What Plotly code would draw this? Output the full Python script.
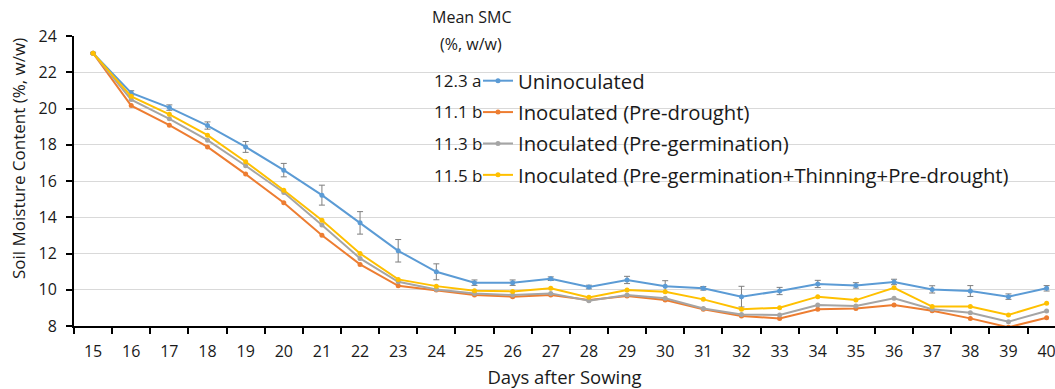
import numpy as np
import plotly.graph_objects as go

days = list(range(15, 41))
uninoculated = [23.05, 20.86, 20.05, 19.06, 17.88, 16.60, 15.22, 13.69, 12.15, 10.99, 10.39, 10.39, 10.61,
                10.15, 10.54, 10.20, 10.08, 9.62, 9.93, 10.32, 10.24, 10.43, 10.02, 9.93, 9.62, 10.08]
uninoculated_err = [0.05, 0.12, 0.15, 0.2, 0.3, 0.37, 0.55, 0.62, 0.62, 0.44, 0.15, 0.15, 0.1,
                    0.1, 0.2, 0.3, 0.1, 0.57, 0.2, 0.2, 0.15, 0.15, 0.2, 0.3, 0.15, 0.15]
pre_drought = [23.05, 20.16, 19.08, 17.88, 16.38, 14.80, 13.01, 11.40, 10.22, 9.98, 9.71, 9.62, 9.71,
               9.43, 9.65, 9.43, 8.92, 8.55, 8.42, 8.92, 8.97, 9.16, 8.84, 8.42, 7.93, 8.46]
pre_germination = [23.05, 20.49, 19.43, 18.25, 16.84, 15.37, 13.57, 11.73, 10.44, 10.02, 9.80, 9.71, 9.80,
                   9.40, 9.71, 9.53, 8.97, 8.64, 8.61, 9.16, 9.10, 9.53, 8.92, 8.73, 8.24, 8.83]
combined = [23.05, 20.67, 19.68, 18.53, 17.06, 15.49, 13.84, 12.00, 10.57, 10.20, 9.95, 9.91, 10.08,
            9.58, 9.98, 9.89, 9.47, 8.92, 9.01, 9.62, 9.43, 10.11, 9.07, 9.07, 8.61, 9.25]

series_names = ["Uninoculated", "Inoculated (Pre-drought)", "Inoculated (Pre-germination)",
                "Inoculated (Pre-germination+Thinning+Pre-drought)"]
mean_smc = ["12.3 a", "11.1 b", "11.3 b", "11.5 b"]
colors = ["#5B9BD5", "#ED7D31", "#A5A5A5", "#FFC000"]
y_ticks = list(range(8, 25, 2))

FONT = "Open Sans"
TXT = "#1a1a1a"

fig = go.Figure()
all_series = [uninoculated, pre_drought, pre_germination, combined]
for i, (name, vals, col) in enumerate(zip(series_names, all_series, colors)):
    err = None
    if i == 0:
        err = dict(type="data", array=uninoculated_err, visible=True, color="#7f7f7f",
                   thickness=1, width=3)
    fig.add_trace(go.Scatter(
        x=days, y=vals, name=name, mode="lines+markers",
        line=dict(color=col, width=2), marker=dict(color=col, size=5),
        error_y=err, legendgroup=f"g{i}",
    ))

bounds = list(np.arange(days[0] - 0.5, days[-1] + 1.0, 1.0))

W, H = 1055, 389
L, R, T, B = 74, 0, 36, 63
pw = W - L - R
ph = H - T - B

def px_x(x):
    return (x - L) / pw

def px_y(y):
    return (H - B - y) / ph

fig.update_layout(
    width=W, height=H,
    margin=dict(l=L, r=R, t=T, b=B, pad=0),
    paper_bgcolor="white", plot_bgcolor="white",
    font=dict(family=FONT, size=15, color=TXT),
    showlegend=True,
    legend=dict(x=px_x(478), y=px_y(61), xanchor="left", yanchor="top",
                font=dict(family=FONT, size=20.3, color=TXT),
                bgcolor="rgba(0,0,0,0)", tracegroupgap=2, itemwidth=30),
    xaxis=dict(range=[14.5, 40.22], tickmode="array", tickvals=days,
               ticktext=[str(d) for d in days], ticks="", showgrid=False, zeroline=False,
               showline=True, linecolor="black", linewidth=2, ticklabeloverflow="allow",
               ticklabelstandoff=10,
               minor=dict(tickmode="array", tickvals=bounds, ticks="outside", ticklen=6,
                          tickwidth=2, tickcolor="black", showgrid=False),
               tickfont=dict(family=FONT, size=16, color=TXT),
               title=dict(text="Days after Sowing", font=dict(family=FONT, size=18.5, color=TXT),
                          standoff=15)),
    xaxis2=dict(overlaying="x", anchor="y", side="bottom", range=[14.5, 40.22],
                tickmode="array", tickvals=bounds, ticks="inside", ticklen=6, tickwidth=2,
                tickcolor="black", showticklabels=False, showgrid=False, zeroline=False,
                showline=False),
    yaxis=dict(range=[8, 24], tickmode="array", tickvals=y_ticks, ticks="outside", ticklen=6,
               tickwidth=2, tickcolor="black", showline=True, linecolor="black", linewidth=2,
               showgrid=True, gridcolor="#d9d9d9", gridwidth=1, zeroline=False,
               ticklabelstandoff=6,
               tickfont=dict(family=FONT, size=16, color=TXT)),
    yaxis2=dict(overlaying="y", anchor="x", side="left", range=[8, 24], tickmode="array",
                tickvals=y_ticks, ticks="inside", ticklen=6, tickwidth=2, tickcolor="black",
                showticklabels=False, showgrid=False, zeroline=False, showline=False),
)

annotations = [
    dict(text="Soil Moisture Content (%, w/w)", textangle=-90, xref="paper", yref="paper",
         x=px_x(18), y=px_y(159), showarrow=False, font=dict(family=FONT, size=17, color=TXT),
         xanchor="center", yanchor="middle"),
    dict(text="Mean SMC", xref="paper", yref="paper", x=px_x(471), y=px_y(17), showarrow=False,
         font=dict(family=FONT, size=16, color=TXT), xanchor="center", yanchor="middle"),
    dict(text="(%, w/w)", xref="paper", yref="paper", x=px_x(471), y=px_y(44), showarrow=False,
         font=dict(family=FONT, size=16, color=TXT), xanchor="center", yanchor="middle"),
]
row_y = [80, 112, 143, 175]
for m, ry in zip(mean_smc, row_y):
    annotations.append(dict(text=m, xref="paper", yref="paper", x=px_x(484), y=px_y(ry),
                            showarrow=False, font=dict(family=FONT, size=17, color=TXT),
                            xanchor="right", yanchor="middle"))
fig.update_layout(annotations=annotations)

fig.write_html("out.html")
